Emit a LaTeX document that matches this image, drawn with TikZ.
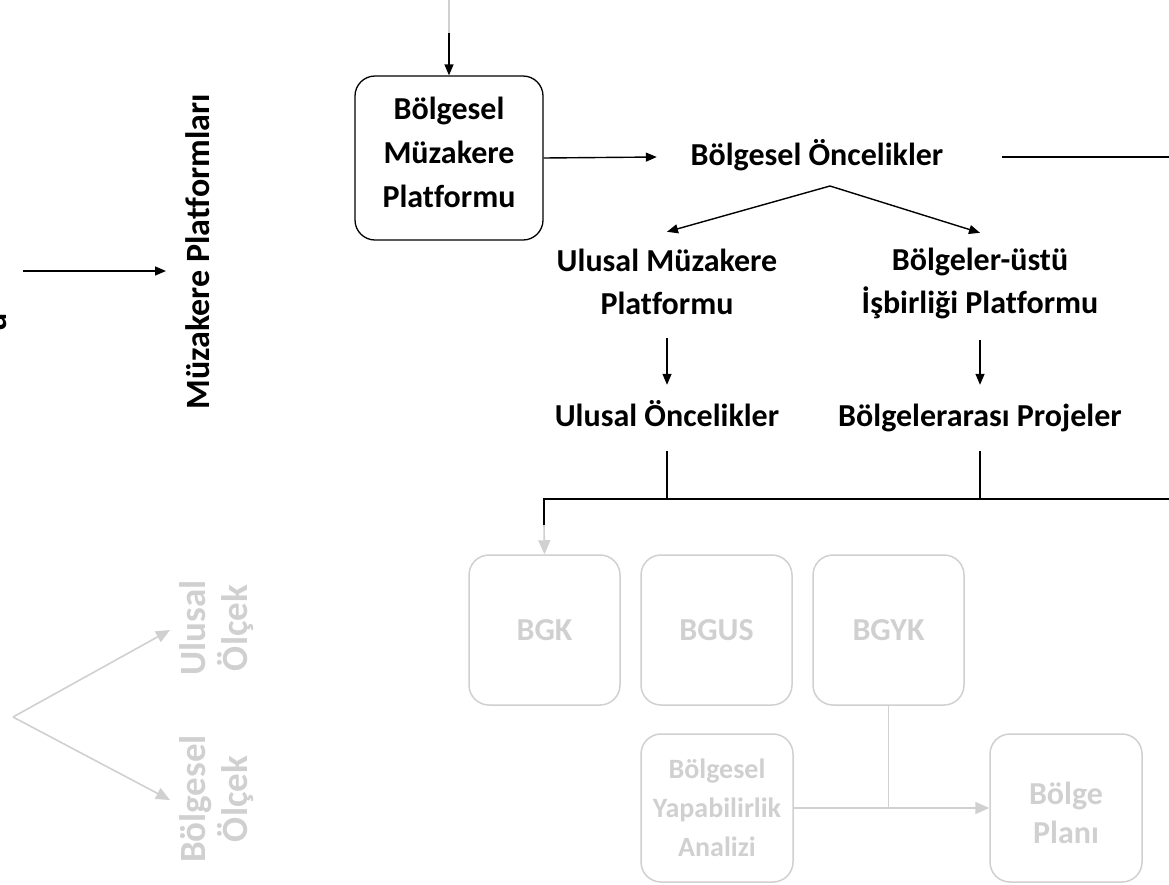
\documentclass[tikz,border=0pt]{standalone}
\usepackage{fontspec}
\setmainfont{Carlito}[Ligatures=NoCommon]
\usetikzlibrary{arrows.meta}
\definecolor{lg}{RGB}{208,208,208}
\tikzset{
  blk/.style={font=\bfseries\fontsize{32}{43}\selectfont, align=center, inner sep=0pt},
  oneline/.style={blk, text height=24pt, text depth=8pt},
  rblk/.style={font=\bfseries\fontsize{34}{43}\selectfont, align=center, inner sep=0pt},
  gtxt/.style={text=lg, font=\bfseries\fontsize{32}{40}\selectfont, align=center, inner sep=0pt},
  rgtxt/.style={text=lg, font=\bfseries\fontsize{37}{42}\selectfont, align=center, inner sep=0pt},
  blkbox/.style={blk, draw, line width=1.3pt, rounded corners=20pt, minimum width=188pt, minimum height=164pt},
  gbox/.style={gtxt, draw=lg, line width=1.5pt, rounded corners=20pt, minimum width=151pt, minimum height=150pt},
  ln/.style={line width=1.4pt},
  conn/.style={line width=1.4pt, -{Triangle[length=11pt,width=9pt]}},
  gln/.style={draw=lg, line width=1.6pt},
  gconn/.style={draw=lg, line width=1.6pt, -{Triangle[length=14pt,width=12pt]}},
}
\begin{document}
\begin{tikzpicture}[x=1pt,y=-1pt]
\useasboundingbox (0,0) rectangle (1169,884);

% top flow
\coordinate (topin) at (449,0);
\coordinate (topmid) at (449,33);
\node[blkbox, font=\bfseries\fontsize{32}{44}\selectfont] (bmp) at (449,158) {Bölgesel\\Müzakere\\Platformu\rule[-12pt]{0pt}{1pt}};
\node[oneline, minimum width=320pt, minimum height=58pt] (bo) at (817,157) {Bölgesel Öncelikler};
\coordinate (rightend) at (1169,157);
\coordinate (apex) at (830,186);
\node[blk, minimum height=100pt] (ump) at (667,282) {Ulusal Müzakere\\Platformu};
\node[blk, minimum height=100pt] (bup) at (980,283) {Bölgeler-üstü\\İşbirliği Platformu};
\node[oneline, minimum height=66pt] (uo) at (667,418) {Ulusal Öncelikler};
\node[oneline, minimum height=66pt] (bpj) at (980,418) {Bölgelerarası Projeler};
\coordinate (busL) at (544,499);
\coordinate (busR) at (1169,499);
\coordinate (j1) at (667,499);
\coordinate (j2) at (980,499);
\coordinate (bend) at (544,525);

\draw[gln] (topin) -- (topmid);
\draw[conn] (topmid) -- (bmp.north);
\draw[conn] (bmp.east) -- (bo.west);
\draw[ln, shorten <=25pt] (bo.east) -- (rightend);
\draw[conn] (apex) -- (ump.north);
\draw[conn] (apex) -- (bup.north);
\draw[conn, shorten <=6pt] (ump.south) -- (uo.north);
\draw[conn, shorten <=7pt] (bup.south) -- (bpj.north);
\draw[ln] (uo.south) -- (j1);
\draw[ln] (bpj.south) -- (j2);
\draw[ln] (busR) -- (busL) -- (bend);

% left part
\node[rblk, rotate=90] (mp) at (198,252) {Müzakere Platformları};
\coordinate (lstart) at (23,271);
\coordinate (mpin) at (166,271);
\draw[conn] (lstart) -- (mpin);
\node[rblk, rotate=90, anchor=base] (frag) at (6,322) {u};

% grey part
\node[gbox] (bgk) at (544.5,630) {BGK};
\node[gbox] (bgus) at (716.5,630) {BGUS};
\node[gbox] (bgyk) at (888.5,630) {BGYK};
\node[gbox, minimum width=152pt, minimum height=148pt, font=\bfseries\fontsize{28}{39}\selectfont] (ya) at (717,808) {Bölgesel\\Yapabilirlik\\Analizi};
\node[gbox, minimum width=152pt, minimum height=148pt, font=\bfseries\fontsize{32}{39}\selectfont] (bpl) at (1066,808) {\rule{0pt}{33pt}Bölge\\Planı};
\coordinate (jn) at (888.5,808);
\draw[gconn] (bend) -- (bgk.north);
\draw[gln] (bgyk.south) -- (jn);
\draw[gconn] (ya.east) -- (bpl.west);

\coordinate (lap) at (13,717);
\coordinate (ulT) at (170,630);
\coordinate (bgT) at (170,800);
\draw[gconn] (lap) -- (ulT);
\draw[gconn] (lap) -- (bgT);
\node[rgtxt, rotate=90] (uls) at (217,628) {Ulusal\\Ölçek};
\node[rgtxt, rotate=90] (bls) at (217,799) {Bölgesel\\Ölçek};
\end{tikzpicture}
\end{document}
